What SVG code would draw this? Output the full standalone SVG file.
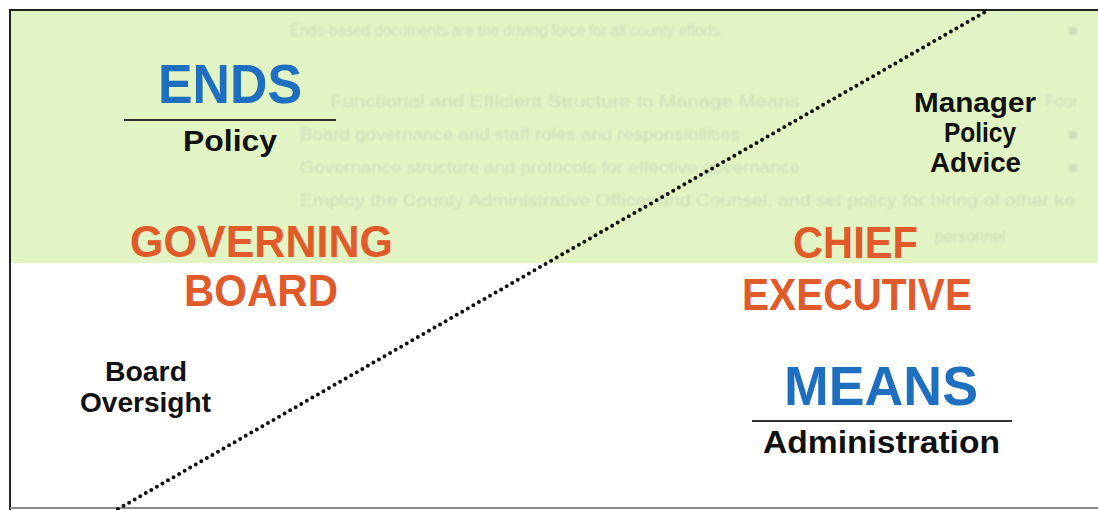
<svg xmlns="http://www.w3.org/2000/svg" width="1098" height="510" viewBox="0 0 1098 510">
  <defs>
    <filter id="soft" x="-5%" y="-50%" width="110%" height="200%">
      <feGaussianBlur stdDeviation="0.8"/>
    </filter>
    <style>
      .ghost { font-family: "Liberation Sans", Arial, sans-serif; font-size: 16px; fill: #cfdeb9; }
      .big { font-family: "Liberation Sans", Arial, sans-serif; font-weight: bold; }
      .blue { fill: #1f6fc1; font-size: 56px; }
      .orange { fill: #e05a2a; font-size: 45px; }
      .label { font-family: "Liberation Sans", Arial, sans-serif; font-weight: bold; fill: #111; }
      .rule { stroke: #333; stroke-width: 1.8; }
    </style>
  </defs>

  <!-- page background and upper green band -->
  <rect x="0" y="0" width="1098" height="510" fill="#ffffff"/>
  <rect x="11" y="11" width="1087" height="252" fill="#e2f3c4"/>

  <!-- faint show-through text on the green band -->
  <g id="show-through" filter="url(#soft)">
    <text class="ghost" x="290" y="36" textLength="430" lengthAdjust="spacingAndGlyphs">Ends-based documents are the driving force for all county efforts</text>
    <text class="ghost" x="1068" y="36">■</text>
    <text class="ghost" x="330" y="107" textLength="470" lengthAdjust="spacingAndGlyphs">Functional and Efficient Structure to Manage Means</text>
    <text class="ghost" x="1045" y="107">Four</text>
    <text class="ghost" x="300" y="140" textLength="440" lengthAdjust="spacingAndGlyphs">Board governance and staff roles and responsibilities</text>
    <text class="ghost" x="1068" y="140">■</text>
    <text class="ghost" x="300" y="173" textLength="500" lengthAdjust="spacingAndGlyphs">Governance structure and protocols for effective governance</text>
    <text class="ghost" x="1068" y="173">■</text>
    <text class="ghost" x="300" y="206" textLength="775" lengthAdjust="spacingAndGlyphs">Employ the County Administrative Officer and Counsel, and set policy for hiring of other ke</text>
    <text class="ghost" x="935" y="242">personnel</text>
  </g>

  <!-- frame edges -->
  <g id="frame" fill="none">
    <line x1="9" y1="10" x2="1098" y2="10" stroke="#222" stroke-width="2"/>
    <line x1="10" y1="9" x2="10" y2="510" stroke="#222" stroke-width="2"/>
    <line x1="10" y1="508" x2="1098" y2="508" stroke="#8a8a8a" stroke-width="2"/>
  </g>

  <!-- dotted diagonal dividing board and executive domains -->
  <g id="connectors">
    <line x1="118" y1="509" x2="985" y2="12" stroke="#111" stroke-width="4" stroke-linecap="round" stroke-dasharray="0 6.4"/>
  </g>

  <g id="ends">
    <text class="big blue" x="158" y="103" textLength="144" lengthAdjust="spacingAndGlyphs">ENDS</text>
    <line class="rule" x1="124" y1="120" x2="336" y2="120"/>
    <text class="label" x="183" y="151" font-size="30" textLength="94" lengthAdjust="spacingAndGlyphs">Policy</text>
  </g>

  <g id="governing-board">
    <text class="big orange" x="130" y="257" font-size="46" textLength="263" lengthAdjust="spacingAndGlyphs">GOVERNING</text>
    <text class="big orange" x="184" y="306" textLength="154" lengthAdjust="spacingAndGlyphs">BOARD</text>
  </g>

  <g id="board-oversight">
    <text class="label" x="105" y="381" font-size="27" textLength="82" lengthAdjust="spacingAndGlyphs">Board</text>
    <text class="label" x="80" y="412" font-size="27" textLength="131" lengthAdjust="spacingAndGlyphs">Oversight</text>
  </g>

  <g id="manager-advice">
    <text class="label" x="914" y="112" font-size="28" textLength="122" lengthAdjust="spacingAndGlyphs">Manager</text>
    <text class="label" x="944" y="142" font-size="28" textLength="72" lengthAdjust="spacingAndGlyphs">Policy</text>
    <text class="label" x="930" y="172" font-size="28" textLength="91" lengthAdjust="spacingAndGlyphs">Advice</text>
  </g>

  <g id="chief-executive">
    <text class="big orange" x="793" y="258" textLength="125" lengthAdjust="spacingAndGlyphs">CHIEF</text>
    <text class="big orange" x="742" y="310" textLength="230" lengthAdjust="spacingAndGlyphs">EXECUTIVE</text>
  </g>

  <g id="means">
    <text class="big blue" x="784" y="405" textLength="194" lengthAdjust="spacingAndGlyphs">MEANS</text>
    <line class="rule" x1="752" y1="421" x2="1012" y2="421"/>
    <text class="label" x="763" y="453" font-size="31" textLength="237" lengthAdjust="spacingAndGlyphs">Administration</text>
  </g>
</svg>
